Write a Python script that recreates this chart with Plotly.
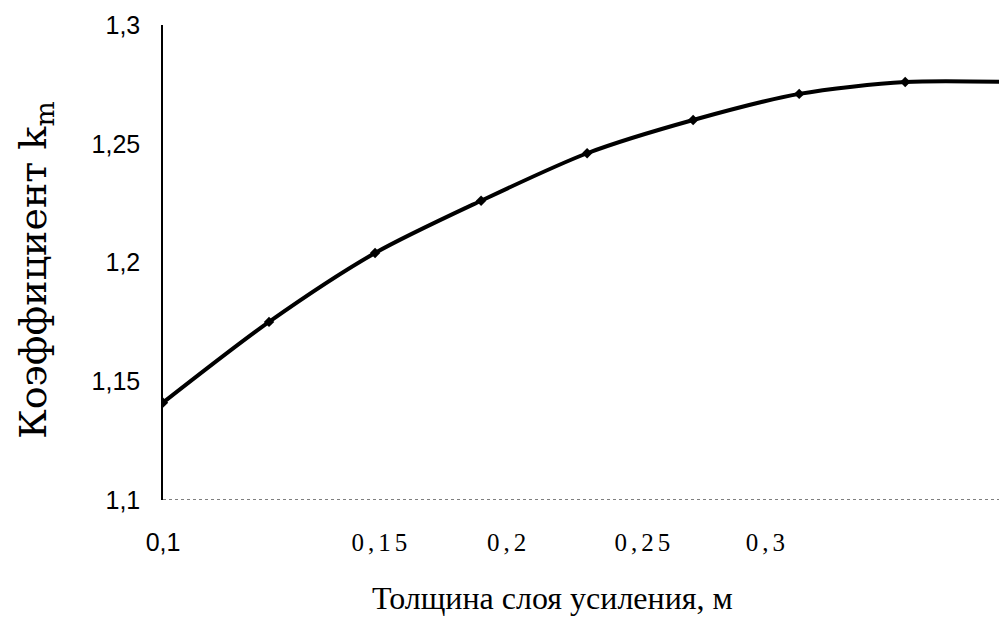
import plotly.graph_objects as go

# data
thickness = [0.100, 0.125, 0.150, 0.175, 0.200, 0.225, 0.250, 0.275, 0.300]
k_m = [1.141, 1.175, 1.204, 1.226, 1.246, 1.260, 1.271, 1.276, 1.276]

x_tick_vals = [0.100, 0.1515, 0.1815, 0.2135, 0.2425]
x_tick_labels = ["0,1", "0,15", "0,2", "0,25", "0,3"]
y_tick_vals = [1.10, 1.15, 1.20, 1.25, 1.30]
y_tick_labels = ["1,1", "1,15", "1,2", "1,25", "1,3"]

x_title = "Толщина слоя усиления, м"
y_title = "Коэффициент k<sub>m</sub>"

SANS = "'Liberation Sans', Arial, sans-serif"
x_tick_text = [
    f'<span style="font-family:{SANS};letter-spacing:0px">{t}</span>' if i == 0
    else f'<span style="letter-spacing:4px">{t}</span>'
    for i, t in enumerate(x_tick_labels)
]

fig = go.Figure()
fig.add_trace(go.Scatter(
    x=thickness, y=k_m, mode="lines+markers",
    line=dict(color="black", width=4, shape="spline", smoothing=0.8),
    marker=dict(symbol="diamond", size=8, color="black"),
    showlegend=False, hoverinfo="skip",
))

# dotted baseline
fig.add_shape(type="line", xref="paper", yref="y", x0=0, x1=1, y0=1.1, y1=1.1,
              line=dict(color="#555555", width=1.5, dash="dot"))

fig.add_annotation(text=y_title, xref="paper", yref="paper", x=-0.1515, y=0.483,
                   xanchor="center", yanchor="middle", textangle=-90, showarrow=False,
                   borderpad=0,
                   font=dict(family="DejaVu Serif, serif", size=38, color="black"))
fig.add_annotation(text=x_title, xref="paper", yref="paper", x=0.461, y=-0.206,
                   xanchor="center", yanchor="middle", showarrow=False,
                   font=dict(family="Liberation Serif, Times New Roman, serif", size=32, color="black"))

fig.update_layout(
    width=999, height=609,
    margin=dict(l=155, r=0, t=17, b=117),
    paper_bgcolor="white", plot_bgcolor="white",
    xaxis=dict(
        range=[0.1, 0.299], tickmode="array", tickvals=x_tick_vals, ticktext=x_tick_text,
        showgrid=False, zeroline=False, showline=False, ticks="",
        ticklabelstandoff=25,
        tickfont=dict(family="Liberation Serif, Times New Roman, serif", size=25, color="black"),
    ),
    yaxis=dict(
        range=[1.1, 1.3], tickmode="array", tickvals=y_tick_vals, ticktext=y_tick_labels,
        showgrid=False, zeroline=False, showline=True, linecolor="black", linewidth=1.5,
        ticks="", ticklabelstandoff=16,
        tickfont=dict(family="Liberation Sans, Arial, sans-serif", size=25, color="black"),
    ),
)

fig.write_html("out.html")
